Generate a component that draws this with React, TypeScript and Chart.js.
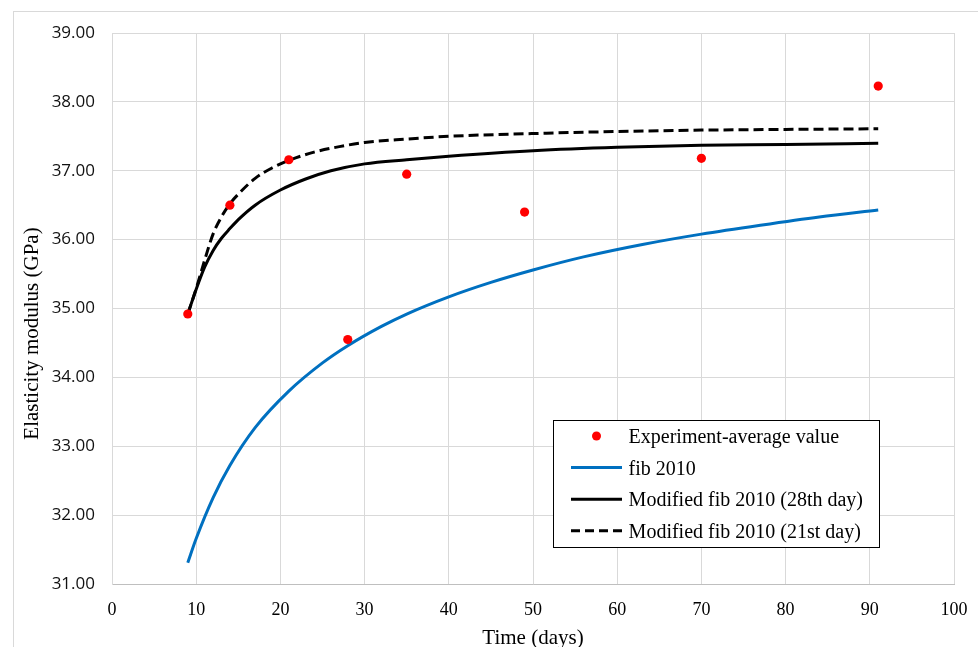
import React, { useEffect, useRef } from "react";
import { Chart, registerables } from "chart.js";

Chart.register(...registerables);

// ---- Data ----
const expDays = [9, 14, 21, 28, 35, 49, 70, 91];
const expValues = [34.92, 36.5, 37.16, 34.55, 36.95, 36.4, 37.18, 38.23];

const fibDays = [9, 10, 12, 14, 17, 21, 25, 28, 32, 35, 40, 45, 50, 56, 63, 70, 77, 84, 91];
const fibValues = [31.31, 31.66, 32.25, 32.72, 33.27, 33.8, 34.21, 34.46, 34.74, 34.92, 35.17, 35.38, 35.56, 35.75, 35.93, 36.08, 36.21, 36.33, 36.43];

const mod28Days = [9, 10, 11, 12, 13, 14, 15, 17, 20, 23, 26, 30, 35, 40, 50, 60, 70, 80, 91];
const mod28Values = [34.92, 35.28, 35.6, 35.84, 36.02, 36.16, 36.29, 36.5, 36.72, 36.88, 37.0, 37.1, 37.16, 37.21, 37.29, 37.34, 37.37, 37.38, 37.4];

const mod21Days = [9, 10, 11, 12, 13, 14, 15, 17, 19, 21, 24, 27, 30, 35, 40, 50, 60, 70, 80, 91];
const mod21Values = [34.92, 35.29, 35.7, 36.08, 36.33, 36.52, 36.66, 36.89, 37.04, 37.15, 37.27, 37.35, 37.41, 37.46, 37.5, 37.54, 37.57, 37.59, 37.6, 37.61];

const seriesLabels = [
  "Experiment-average value",
  "fib 2010",
  "Modified fib 2010 (28th day)",
  "Modified fib 2010 (21st day)",
];

const xTitle = "Time (days)";
const yTitle = "Elasticity modulus (GPa)";

const SERIF = "'Liberation Serif', 'Times New Roman', serif";
const SANS = "'Open Sans', 'Liberation Sans', sans-serif";

const toPoints = (xs: number[], ys: number[]) => xs.map((x, i) => ({ x, y: ys[i] }));

const insideLegend = {
  id: "insideLegend",
  afterDraw(chart: any) {
    const { ctx, chartArea } = chart;
    const w = 326;
    const h = 127;
    const x0 = chartArea.right - 75 - w;
    const y0 = chartArea.bottom - 37 - h;
    ctx.save();
    ctx.fillStyle = "#ffffff";
    ctx.fillRect(x0, y0, w, h);
    ctx.strokeStyle = "#000000";
    ctx.lineWidth = 1;
    ctx.strokeRect(Math.round(x0) + 0.5, Math.round(y0) + 0.5, w, h);
    chart.data.datasets.forEach((ds: any, i: number) => {
      const cy = y0 + 16 + i * 31.6;
      const sx = x0 + 18;
      const ex = x0 + 69;
      if (!ds.showLine) {
        ctx.beginPath();
        ctx.fillStyle = ds.pointBackgroundColor;
        ctx.arc((sx + ex) / 2, cy, 4.5, 0, Math.PI * 2);
        ctx.fill();
      } else {
        ctx.beginPath();
        ctx.strokeStyle = ds.borderColor;
        ctx.lineWidth = 3;
        ctx.setLineDash(ds.borderDash ? [9, 5] : []);
        ctx.moveTo(sx, cy);
        ctx.lineTo(ex, cy);
        ctx.stroke();
        ctx.setLineDash([]);
      }
      ctx.fillStyle = "#000000";
      ctx.font = `20px ${SERIF}`;
      ctx.textAlign = "left";
      ctx.textBaseline = "alphabetic";
      ctx.fillText(ds.label, x0 + 75.6, cy + 7);
    });
    ctx.restore();
  },
};

const yAxisTitle = {
  id: "yAxisTitle",
  afterDraw(chart: any) {
    const { ctx, chartArea } = chart;
    ctx.save();
    ctx.translate(chartArea.left - 74, (chartArea.top + chartArea.bottom) / 2 + 25);
    ctx.rotate(-Math.PI / 2);
    ctx.fillStyle = "#000000";
    ctx.font = `21px ${SERIF}`;
    ctx.textAlign = "center";
    ctx.textBaseline = "alphabetic";
    ctx.fillText(yTitle, 0, 0);
    ctx.restore();
  },
};

export default function App() {
  const canvasRef = useRef<HTMLCanvasElement | null>(null);

  useEffect(() => {
    if (!canvasRef.current) return;
    const chart = new Chart(canvasRef.current, {
      type: "scatter",
      data: {
        datasets: [
          {
            label: seriesLabels[0],
            data: toPoints(expDays, expValues),
            showLine: false,
            pointRadius: 4.6,
            pointHoverRadius: 4.6,
            pointBackgroundColor: "#ff0000",
            pointBorderColor: "#ff0000",
            pointBorderWidth: 0,
          },
          {
            label: seriesLabels[1],
            data: toPoints(fibDays, fibValues),
            showLine: true,
            borderColor: "#0070c0",
            backgroundColor: "#0070c0",
            borderWidth: 3,
            pointRadius: 0,
            cubicInterpolationMode: "monotone",
          },
          {
            label: seriesLabels[2],
            data: toPoints(mod28Days, mod28Values),
            showLine: true,
            borderColor: "#000000",
            backgroundColor: "#000000",
            borderWidth: 3,
            pointRadius: 0,
            cubicInterpolationMode: "monotone",
          },
          {
            label: seriesLabels[3],
            data: toPoints(mod21Days, mod21Values),
            showLine: true,
            borderColor: "#000000",
            backgroundColor: "#000000",
            borderWidth: 3,
            borderDash: [10, 5],
            pointRadius: 0,
            cubicInterpolationMode: "monotone",
          },
        ],
      },
      options: {
        animation: false,
        responsive: false,
        devicePixelRatio: 1,
        layout: { padding: { left: 0, top: 33, right: 24, bottom: 0 } },
        plugins: {
          legend: { display: false },
          tooltip: { enabled: false },
          title: { display: false },
        },
        scales: {
          x: {
            type: "linear",
            min: 0,
            max: 100,
            ticks: {
              stepSize: 10,
              padding: 15,
              color: "#000000",
              font: { family: SERIF, size: 18 },
            },
            grid: { color: "#d9d9d9", lineWidth: 1, drawTicks: false },
            border: { color: "#bfbfbf", width: 1 },
            title: {
              display: true,
              text: xTitle,
              color: "#000000",
              font: { family: SERIF, size: 21 },
              padding: { top: 0, bottom: -4 },
            },
            afterFit: (scale: any) => {
              scale.height = 63;
              scale.paddingLeft = 0;
              scale.paddingRight = 0;
            },
          },
          y: {
            type: "linear",
            min: 31,
            max: 39,
            ticks: {
              stepSize: 1,
              padding: 17,
              color: "#111111",
              font: { family: SANS, size: 17 },
              callback: (v: any) => Number(v).toFixed(2),
            },
            grid: { color: "#d9d9d9", lineWidth: 1, drawTicks: false },
            border: { color: "#d9d9d9", width: 1 },
            afterFit: (scale: any) => {
              scale.width = 112;
              scale.paddingTop = 0;
              scale.paddingBottom = 0;
            },
          },
        },
      },
      plugins: [insideLegend, yAxisTitle],
    } as any);
    return () => chart.destroy();
  }, []);

  return (
    <div
      style={{
        position: "fixed",
        left: 0,
        top: 0,
        width: 978,
        height: 647,
        background: "#ffffff",
        overflow: "hidden",
      }}
    >
      <div
        style={{
          position: "absolute",
          left: 13,
          top: 11,
          width: 1000,
          height: 700,
          border: "1px solid #d9d9d9",
        }}
      />
      <canvas
        ref={canvasRef}
        width={978}
        height={647}
        style={{ position: "absolute", left: 0, top: 0, width: 978, height: 647 }}
      />
    </div>
  );
}
